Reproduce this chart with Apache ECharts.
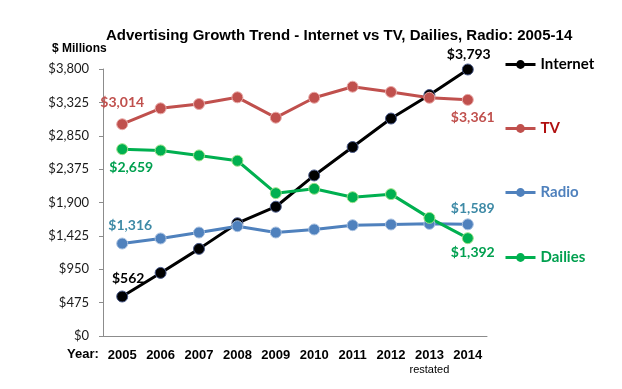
<!DOCTYPE html>
<html>
<head>
<meta charset="utf-8">
<script src="https://cdn.jsdelivr.net/npm/echarts@6/dist/echarts.min.js"></script>
<style>html,body{margin:0;padding:0;background:#fff;}#c{width:622px;height:389px;}</style>
</head>
<body>
<div id="c"></div>
<script>
const years = ['2005','2006','2007','2008','2009','2010','2011','2012','2013','2014'];
const internet = [562, 898, 1240, 1605, 1840, 2285, 2690, 3095, 3430, 3793];
const tv = [3014, 3240, 3302, 3397, 3107, 3391, 3548, 3473, 3391, 3361];
const radio = [1316, 1388, 1473, 1563, 1473, 1516, 1577, 1587, 1596, 1589];
const dailies = [2659, 2641, 2570, 2494, 2033, 2095, 1976, 2019, 1681, 1392];
const yMax = 3800;
const yStep = 475;

const fmt = v => '$' + v.toLocaleString('en-US');
const chart = echarts.init(document.getElementById('c'));

function mk(vals, labelColor, first, last) {
  return vals.map((v, i) => {
    if (i === 0) return {value: v, label: Object.assign({show: true, color: labelColor}, first)};
    if (i === vals.length - 1) return {value: v, label: Object.assign({show: true, color: labelColor}, last)};
    return v;
  });
}
const labelFont = {fontFamily: 'Lato', fontWeight: 'bold', fontSize: 14, formatter: p => fmt(p.value)};

function series(name, vals, color, border, labelColor, first, last) {
  return {
    name: name, type: 'line', data: mk(vals, labelColor, first, last),
    symbol: 'circle', symbolSize: 11,
    lineStyle: {color: color, width: 3},
    itemStyle: {color: color, borderColor: border, borderWidth: 1},
    label: Object.assign({show: false}, labelFont),
    emphasis: {disabled: true}
  };
}

function leg(name, top, color) {
  return {
    data: [name], left: 499, top: top, orient: 'vertical',
    itemWidth: 30, itemHeight: 11, itemGap: 2,
    itemStyle: {borderWidth: 0},
    lineStyle: {width: 3},
    textStyle: {fontFamily: 'Lato', fontWeight: 'bold', fontSize: 15, color: color},
    selectedMode: false
  };
}

chart.setOption({
  animation: false,
  title: {
    text: 'Advertising Growth Trend - Internet vs TV, Dailies, Radio: 2005-14',
    left: 101, top: 23,
    textStyle: {fontFamily: 'Liberation Sans', fontWeight: 'bold', fontSize: 15, color: '#000'}
  },
  legend: [
    leg('Internet', 52, '#000000'),
    leg('TV', 116, '#b01010'),
    leg('Radio', 180, '#4f81bd'),
    leg('Dailies', 245, '#00a04f')
  ],
  grid: {left: 103, right: 135, top: 69, bottom: 53},
  xAxis: {
    type: 'category', data: years, boundaryGap: true,
    axisLine: {lineStyle: {color: '#8c8c8c', width: 1}},
    axisTick: {alignWithLabel: true, length: 4, lineStyle: {color: '#8c8c8c'}},
    axisLabel: {
      margin: 12,
      interval: 0,
      formatter: v => v === '2013' ? '{a|' + v + '}\n{b|restated}' : '{a|' + v + '}',
      rich: {
        a: {fontFamily: 'Liberation Sans', fontWeight: 'bold', fontSize: 13, color: '#000', lineHeight: 15},
        b: {fontFamily: 'Liberation Sans', fontSize: 11, color: '#000', lineHeight: 14}
      }
    }
  },
  yAxis: {
    type: 'value', min: 0, max: yMax, interval: yStep,
    axisLine: {show: true, lineStyle: {color: '#8c8c8c', width: 1}},
    axisTick: {show: true, length: 4, lineStyle: {color: '#8c8c8c'}},
    splitLine: {show: false},
    axisLabel: {fontFamily: 'Lato', fontSize: 13, color: '#1a1a1a', margin: 14, formatter: v => fmt(v)}
  },
  graphic: [
    {type: 'text', left: 52, top: 43, style: {text: '$ Millions', font: 'bold 12px "Liberation Sans"', fill: '#000'}},
    {type: 'text', left: 67, top: 348, style: {text: 'Year:', font: 'bold 13px "Liberation Sans"', fill: '#000'}}
  ],
  series: [
    series('Internet', internet, '#000000', '#4a5a8a', '#000000',
      {position: 'top', offset: [6, 0]}, {position: 'top', offset: [1, 3]}),
    series('TV', tv, '#c0504d', '#e8a9a7', '#c0504d',
      {position: 'top', offset: [0, -4]}, {position: 'bottom', offset: [5, 0]}),
    series('Radio', radio, '#4f81bd', '#a9c1e0', '#3e8aa6',
      {position: 'top', offset: [8, 0]}, {position: 'top', offset: [5, 2]}),
    series('Dailies', dailies, '#00b050', '#9ee08a', '#00a04f',
      {position: 'bottom', offset: [9, 0]}, {position: 'bottom', offset: [5, -4]})
  ]
});
</script>
</body>
</html>
